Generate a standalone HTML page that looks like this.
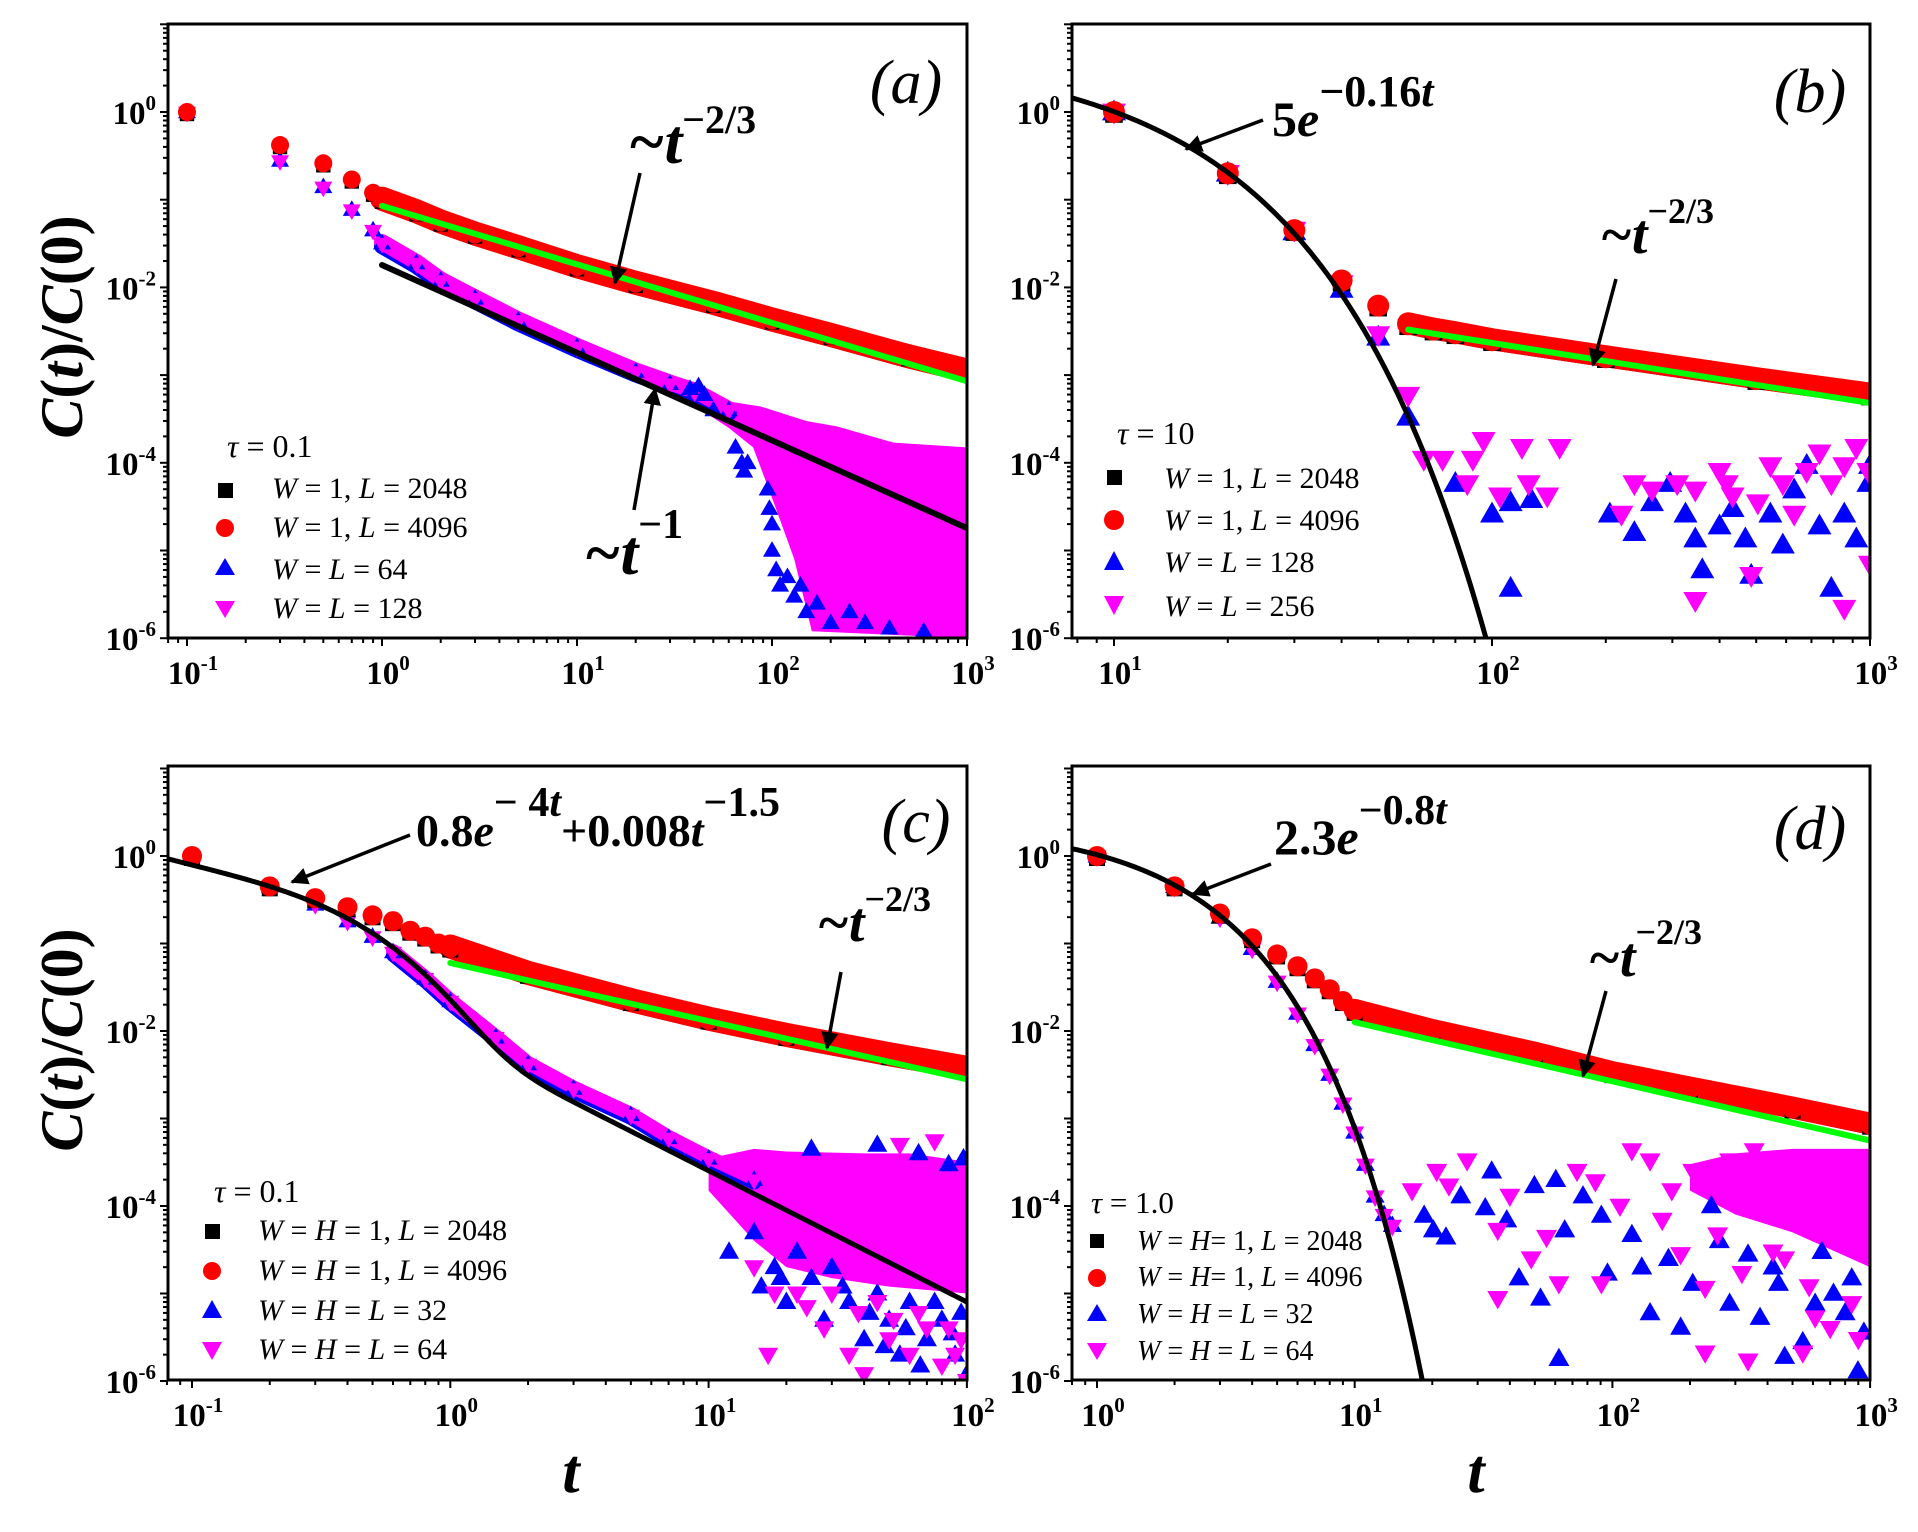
<!DOCTYPE html>
<html><head><meta charset="utf-8"><style>
html,body{margin:0;padding:0;background:#fff}
svg{display:block}
text{font-family:"Liberation Serif",serif}
</style></head><body>
<svg id="fig" width="1918" height="1532" viewBox="0 0 1918 1532" xmlns="http://www.w3.org/2000/svg">
<rect x="0" y="0" width="1918" height="1532" fill="#fff"/>
<defs>
<clipPath id="clip-a"><rect x="168" y="24" width="799" height="614"/></clipPath>
<clipPath id="clip-b"><rect x="1072" y="24" width="798" height="614"/></clipPath>
<clipPath id="clip-c"><rect x="168" y="766" width="799" height="614"/></clipPath>
<clipPath id="clip-d"><rect x="1072" y="766" width="798" height="614"/></clipPath>
<marker id="ah" viewBox="0 0 10 10" refX="9" refY="5" markerWidth="5" markerHeight="5" orient="auto"><path d="M0,0 L10,5 L0,10 z" fill="#000"/></marker>
</defs>
<g id="layer-data"></g>
<g id="layer-axes"></g>
<text transform="translate(82,327) rotate(-90)" text-anchor="middle" font-size="60" font-weight="bold"><tspan font-style="italic">C</tspan>(<tspan font-style="italic">t</tspan>)/<tspan font-style="italic">C</tspan>(0)</text>
<text transform="translate(82,1040) rotate(-90)" text-anchor="middle" font-size="60" font-weight="bold"><tspan font-style="italic">C</tspan>(<tspan font-style="italic">t</tspan>)/<tspan font-style="italic">C</tspan>(0)</text>
<text x="571" y="1492" text-anchor="middle" font-size="62" font-style="italic" font-weight="bold">t</text>
<text x="1476" y="1492" text-anchor="middle" font-size="62" font-style="italic" font-weight="bold">t</text>
<text x="906" y="103" text-anchor="middle" font-size="62" font-style="italic">(a)</text>
<text x="1810" y="112" text-anchor="middle" font-size="62" font-style="italic">(b)</text>
<text x="916" y="842" text-anchor="middle" font-size="62" font-style="italic">(c)</text>
<text x="1810" y="849" text-anchor="middle" font-size="62" font-style="italic">(d)</text>
<g font-weight="bold">
<text x="628" y="163" font-size="64"><tspan font-style="italic">~t</tspan><tspan font-size="40" dy="-30">−2/3</tspan></text>
<text x="584" y="574" font-size="64"><tspan font-style="italic">~t</tspan><tspan font-size="42" dy="-36">−1</tspan></text>
<text x="1272" y="136" font-size="50"><tspan>5</tspan><tspan font-style="italic">e</tspan><tspan font-size="44" dy="-30">−0.16</tspan><tspan font-size="44" font-style="italic">t</tspan></text>
<text x="1600" y="253" font-size="56"><tspan font-style="italic">~t</tspan><tspan font-size="36" dy="-30">−2/3</tspan></text>
<text x="416" y="846" font-size="46"><tspan>0.8</tspan><tspan font-style="italic">e</tspan><tspan font-size="42" dy="-30">− 4</tspan><tspan font-size="42" font-style="italic">t</tspan><tspan dy="30">+0.008</tspan><tspan font-style="italic">t</tspan><tspan font-size="42" dy="-30">−1.5</tspan></text>
<text x="817" y="941" font-size="56"><tspan font-style="italic">~t</tspan><tspan font-size="36" dy="-30">−2/3</tspan></text>
<text x="1274" y="854" font-size="50"><tspan>2.3</tspan><tspan font-style="italic">e</tspan><tspan font-size="42" dy="-30">−0.8</tspan><tspan font-size="42" font-style="italic">t</tspan></text>
<text x="1588" y="976" font-size="56"><tspan font-style="italic">~t</tspan><tspan font-size="36" dy="-32">−2/3</tspan></text>
</g>
<g stroke="#000" stroke-width="3.5" marker-end="url(#ah)">
<line x1="640" y1="173" x2="615" y2="283"/>
<line x1="634" y1="510" x2="655" y2="389"/>
<line x1="1263" y1="120" x2="1186" y2="149"/>
<line x1="1616" y1="279" x2="1593" y2="365"/>
<line x1="410" y1="835" x2="292" y2="882"/>
<line x1="841" y1="972" x2="827" y2="1048"/>
<line x1="1271" y1="864" x2="1193" y2="894"/>
<line x1="1606" y1="991" x2="1583" y2="1076"/>
</g>
<g font-size="30">
<g>
<text x="227" y="457" font-size="32"><tspan font-style="italic">τ</tspan> = 0.1</text>
<rect x="218" y="483" width="15" height="15" fill="#000"/>
<text x="272" y="498"><tspan font-style="italic">W</tspan> = 1, <tspan font-style="italic">L</tspan> = 2048</text>
<circle cx="225" cy="528" r="9" fill="#f00"/>
<text x="272" y="537"><tspan font-style="italic">W</tspan> = 1, <tspan font-style="italic">L</tspan> = 4096</text>
<polygon points="225,558 215,575 235,575" fill="#00f"/>
<text x="272" y="579"><tspan font-style="italic">W</tspan> = <tspan font-style="italic">L</tspan> = 64</text>
<polygon points="225,618 215,601 235,601" fill="#f0f"/>
<text x="272" y="618"><tspan font-style="italic">W</tspan> = <tspan font-style="italic">L</tspan> = 128</text>
</g>
<g>
<text x="1117" y="444" font-size="32"><tspan font-style="italic">τ</tspan> = 10</text>
<rect x="1107" y="470" width="15" height="15" fill="#000"/>
<text x="1164" y="488"><tspan font-style="italic">W</tspan> = 1, <tspan font-style="italic">L</tspan> = 2048</text>
<circle cx="1114" cy="520" r="10" fill="#f00"/>
<text x="1164" y="530"><tspan font-style="italic">W</tspan> = 1, <tspan font-style="italic">L</tspan> = 4096</text>
<polygon points="1114,551 1104,570 1124,570" fill="#00f"/>
<text x="1164" y="572"><tspan font-style="italic">W</tspan> = <tspan font-style="italic">L</tspan> = 128</text>
<polygon points="1114,615 1104,596 1124,596" fill="#f0f"/>
<text x="1164" y="616"><tspan font-style="italic">W</tspan> = <tspan font-style="italic">L</tspan> = 256</text>
</g>
<g>
<text x="214" y="1202" font-size="32"><tspan font-style="italic">τ</tspan> = 0.1</text>
<rect x="205" y="1224" width="15" height="15" fill="#000"/>
<text x="258" y="1240"><tspan font-style="italic">W</tspan> = <tspan font-style="italic">H</tspan> = 1, <tspan font-style="italic">L</tspan> = 2048</text>
<circle cx="212" cy="1271" r="9" fill="#f00"/>
<text x="258" y="1280"><tspan font-style="italic">W</tspan> = <tspan font-style="italic">H</tspan> = 1, <tspan font-style="italic">L</tspan> = 4096</text>
<polygon points="212,1300 202,1318 222,1318" fill="#00f"/>
<text x="258" y="1320"><tspan font-style="italic">W</tspan> = <tspan font-style="italic">H</tspan> = <tspan font-style="italic">L</tspan> = 32</text>
<polygon points="212,1360 202,1342 222,1342" fill="#f0f"/>
<text x="258" y="1359"><tspan font-style="italic">W</tspan> = <tspan font-style="italic">H</tspan> = <tspan font-style="italic">L</tspan> = 64</text>
</g>
<g font-size="28">
<text x="1091" y="1213" font-size="31"><tspan font-style="italic">τ</tspan> = 1.0</text>
<rect x="1090" y="1234" width="14" height="14" fill="#000"/>
<text x="1137" y="1250"><tspan font-style="italic">W</tspan> = <tspan font-style="italic">H</tspan>= 1, <tspan font-style="italic">L</tspan> = 2048</text>
<circle cx="1097" cy="1278" r="9" fill="#f00"/>
<text x="1137" y="1286"><tspan font-style="italic">W</tspan> = <tspan font-style="italic">H</tspan>= 1, <tspan font-style="italic">L</tspan> = 4096</text>
<polygon points="1097,1304 1087,1321 1107,1321" fill="#00f"/>
<text x="1137" y="1323"><tspan font-style="italic">W</tspan> = <tspan font-style="italic">H</tspan> = <tspan font-style="italic">L</tspan> = 32</text>
<polygon points="1097,1360 1087,1343 1107,1343" fill="#f0f"/>
<text x="1137" y="1360"><tspan font-style="italic">W</tspan> = <tspan font-style="italic">H</tspan> = <tspan font-style="italic">L</tspan> = 64</text>
</g>
</g>
</svg>
<script>
// ---------- Panel (a) data ----------
const aRedT = [0.1,0.3,0.5,0.7,0.9,1,1.5,2,3,5,10,20,50,100,200,500,1000];
const aRedY = [1,0.42,0.26,0.17,0.12,0.1,0.072,0.055,0.04,0.028,0.017,0.011,0.0065,0.0042,0.0028,0.0016,0.0011];
const aMagT = [0.1,0.3,0.5,0.7,0.9,1,1.5,2,3,5,10,20,30,40,60];
const aMagY = [1,0.28,0.14,0.077,0.045,0.032,0.019,0.012,0.0075,0.0042,0.0021,0.0011,0.0008,0.00065,0.0004];
const aBandUpT = [30,40,60,87,150,215,420,1000];
const aBandUpY = [9e-4,8e-4,5e-4,4.4e-4,3e-4,2.6e-4,1.7e-4,1.5e-4];
const aBandLoT = [30,40,60,80,100,130,160,1000];
const aBandLoY = [6e-4,4.5e-4,2.5e-4,1.5e-4,4e-5,8e-6,1.2e-6,1e-6];
const aBlueScT = [38,42,45,50,65,70,72,75,95,97,100,100,105,110,120,130,140,150,170,200,250,300,400,600];
const aBlueScY = [7e-4,7.5e-4,6e-4,4e-4,1.5e-4,1e-4,8e-5,1e-4,5e-5,3e-5,2e-5,1e-5,6e-6,4e-6,5e-6,3e-6,4e-6,2e-6,2.5e-6,1.5e-6,2e-6,1.5e-6,1.3e-6,1.2e-6];
const aGreenT = [1,1000];
const aGreenY = [0.085,0.00085];
const aFitT = [1,1000];
const aFitY = [0.018,1.8e-5];
// ---------- Panel (b) data ----------
const bRedT = [10,20,30,40,50,60,70,80,100,200,500,1000];
const bRedY = [1,0.2,0.045,0.012,0.0062,0.0038,0.0033,0.003,0.0025,0.0016,0.0009,0.0006];
const bBlueT = [10,20,30,40,50,60];
const bBlueY = [1,0.2,0.043,0.0095,0.0027,0.00033];
const bMagT = [10,20,30,40,50,60];
const bMagY = [1,0.2,0.045,0.011,0.0029,0.00059];
const bBlueScT = [80,100,112,127,112,205,238,265,296,325,345,360,400,433,468,485,545,588,630,680,735,790,855,920,990,1000];
const bBlueScY = [5.8e-5,2.6e-5,3.5e-5,3.8e-5,3.7e-6,2.6e-5,1.6e-5,3.5e-5,5.8e-5,2.6e-5,1.35e-5,6e-6,1.9e-5,3e-5,1.35e-5,5.2e-6,2.6e-5,1.15e-5,4.9e-5,9.3e-5,1.9e-5,3.7e-6,2.6e-5,1.35e-5,5.8e-5,9.3e-5];
const bMagScT = [66,74,86,89,95,105,120,125,140,151,220,238,265,309,345,400,433,485,545,588,630,680,735,790,855,920,990,1000,855,345,505,418];
const bMagScY = [1.1e-4,1.1e-4,5.8e-5,1.1e-4,1.8e-4,4.2e-5,1.5e-4,5.8e-5,4.2e-5,1.5e-4,2.6e-5,5.8e-5,4.9e-5,5.8e-5,4.9e-5,8e-5,4.2e-5,5.2e-6,9.3e-5,5.8e-5,2.6e-5,8e-5,1.3e-4,5.8e-5,9.3e-5,1.5e-4,8e-5,7e-6,2.2e-6,2.7e-6,3.5e-5,5.8e-5];
const bGreenT = [60,1000];
const bGreenY = [0.0033,0.00048];
const bFitAmp = [5];
const bFitRate = [0.16];
// ---------- Panel (c) data ----------
const cRedT = [0.1,0.2,0.3,0.4,0.5,0.6,0.7,0.8,0.9,1,2,5,10,20,50,100];
const cRedY = [1,0.45,0.33,0.26,0.21,0.18,0.14,0.12,0.1,0.09,0.045,0.022,0.0135,0.0088,0.0053,0.0037];
const cMagT = [0.1,0.2,0.3,0.4,0.5,0.6,0.8,1,1.5,2,3,5,7,10,15];
const cMagY = [1,0.45,0.28,0.18,0.12,0.08,0.04,0.022,0.0085,0.0042,0.0022,0.0011,0.0006,0.00035,0.0002];
const cBandUpT = [10,15,20,40,60,100];
const cBandUpY = [3.5e-4,4.5e-4,4.2e-4,4e-4,4e-4,3.2e-4];
const cBandLoT = [10,15,20,30,50,100];
const cBandLoY = [1.5e-4,4e-5,2e-5,1.5e-5,1.2e-5,1e-5];
const cBlueScT = [12,15,18,20,22,25,28,30,35,40,45,50,55,60,70,80,90,100,25,45,65,85,97,16,19,33,42,48,58,66,75,88,95];
const cBlueScY = [3e-5,5e-5,2e-5,8e-6,3e-5,1.5e-5,5e-6,2e-5,8e-6,3e-6,1e-5,5e-6,2e-6,8e-6,3e-6,5e-6,2e-6,1.2e-6,4.5e-4,5e-4,4e-4,3e-4,3.5e-4,1.2e-5,1.5e-5,1.2e-5,6e-6,2.5e-6,4e-6,1.5e-6,8e-6,3.5e-6,6e-6];
const cMagScT = [13,15,17,22,28,35,40,50,60,70,80,90,100,30,45,55,75,18,24,38,52,65,85,95];
const cMagScY = [1.5e-4,2e-5,2e-6,1e-5,4e-6,2e-6,1.2e-6,3e-6,2e-6,4e-6,1.5e-6,2e-6,1e-6,1e-5,8e-6,5e-4,5.5e-4,1e-5,7e-6,6e-6,5e-6,6e-6,4e-6,3e-6];
const cGreenT = [1,100];
const cGreenY = [0.06,0.0028];
const cFitA = [0.8,4];
const cFitB = [0.008,1.5];
// ---------- Panel (d) data ----------
const dRedT = [1,2,3,4,5,6,7,8,9,10,20,50,100,200,500,1000];
const dRedY = [1,0.45,0.22,0.115,0.075,0.055,0.04,0.03,0.022,0.017,0.01,0.0055,0.0033,0.0022,0.0013,0.00085];
const dMagT = [1,2,3,4,5,6,7,8,9,10,11,12,13,14];
const dMagY = [1,0.45,0.2,0.088,0.037,0.016,0.007,0.0032,0.0015,7e-4,3e-4,1.3e-4,8e-5,6e-5];
const dBandUpT = [200,300,500,1000];
const dBandUpY = [3e-4,4e-4,4.5e-4,4.5e-4];
const dBandLoT = [200,300,500,1000];
const dBandLoY = [1.5e-4,8e-5,5e-5,2e-5];
const dBlueScT = [18.6,20.2,22.6,25.8,34,32.1,38.9,43.4,49.8,52.6,60.3,65.3,76.9,90.6,95.7,119,140,165,184,205,242,285,336,374,441,466,548,612,721,849,897,946,62,130,260,420,650,800];
const dBlueScY = [7.8e-5,5.3e-5,4.4e-5,1.3e-4,2.5e-4,9.5e-5,6.9e-5,1.5e-5,1.7e-4,8.8e-6,2e-4,5.3e-5,1.3e-4,7.8e-5,1.7e-5,4.7e-5,6e-6,2.5e-5,4.1e-6,1.3e-5,1e-4,7.7e-6,2.8e-5,5.3e-6,1.3e-5,1.9e-6,2.8e-6,7.7e-6,1e-5,1.5e-5,1.3e-6,3.6e-6,1.8e-6,2e-5,4e-5,2e-5,3e-5,6e-6];
const dMagScT = [16.7,20.8,23.2,27.3,35.9,40,48.4,55.5,62,72.9,85.9,90.6,107,119,140,156,184,205,229,256,285,318,355,396,466,548,612,682,762,849,946,229,336,548,35.9,170,250,420,580,700,900];
const dMagScY = [1.5e-4,2.5e-4,1.7e-4,3.3e-4,5.3e-5,1.3e-4,2.5e-5,4.4e-5,1.3e-5,2.5e-4,1.9e-4,1.3e-5,1e-4,4.3e-4,3.3e-4,6.9e-5,2.8e-5,2.5e-4,1.15e-5,4.7e-5,3.3e-4,1.7e-5,4.3e-4,1e-4,2.5e-5,1.9e-4,5.3e-6,4.7e-5,2.5e-4,7.7e-6,1e-4,2.1e-6,1.7e-6,2.1e-6,8.8e-6,1.5e-4,2e-4,3e-5,1.2e-5,4e-6,3e-6];
const dGreenT = [10,1000];
const dGreenY = [0.0126,0.00056];
const dFitAmp = [2.3];
const dFitRate = [0.8];

const NS = 'http://www.w3.org/2000/svg';
const P = {
  a:{L:168,R:967,T:24,B:638,xo:187,xl:-1,xd:195,yo:112,yd:87.7,xmin:-1,xmax:3,ymin:-6,ymax:1},
  b:{L:1072,R:1870,T:24,B:638,xo:1114,xl:1,xd:378,yo:112,yd:87.7,xmin:1,xmax:3,ymin:-6,ymax:1},
  c:{L:168,R:967,T:766,B:1380,xo:192,xl:-1,xd:258.3,yo:856,yd:87.5,xmin:-1,xmax:2,ymin:-6,ymax:1},
  d:{L:1072,R:1870,T:766,B:1380,xo:1097,xl:0,xd:257.7,yo:856,yd:87.5,xmin:0,xmax:3,ymin:-6,ymax:1}
};
function xs(p,t){return p.xo+(Math.log10(t)-p.xl)*p.xd;}
function ys(p,v){return p.yo-Math.log10(v)*p.yd;}
function mk(tag,parent){const el=document.createElementNS(NS,tag);parent.appendChild(el);return el;}
const dataLayer=document.getElementById('layer-data');
const axLayer=document.getElementById('layer-axes');

function drawAxes(k){
  const p=P[k];
  const g=mk('g',axLayer);
  
  
  const fr=mk('rect',g);
  
  
  fr.setAttribute('x',p.L);fr.setAttribute('y',p.T);fr.setAttribute('width',p.R-p.L);fr.setAttribute('height',p.B-p.T);
  fr.setAttribute('fill','none');fr.setAttribute('stroke','#000');fr.setAttribute('stroke-width','3');
  for(let e=p.xmin-1;e<=p.xmax;e++){
    for(let m=1;m<10;m++){
      const t=m*Math.pow(10,e);const x=xs(p,t);
      if(x<p.L-2||x>p.R+2)continue;
      const ln=mk('line',g);
      
      
      ln.setAttribute('x1',x);ln.setAttribute('x2',x);ln.setAttribute('y1',p.B);ln.setAttribute('y2',p.B+(m===1?8:5));
      ln.setAttribute('stroke','#000');ln.setAttribute('stroke-width','2');
      if(m===1){
        const tx=mk('text',g);
        
        
        tx.setAttribute('x',x+6);tx.setAttribute('y',p.B+46);tx.setAttribute('text-anchor','middle');
        tx.setAttribute('font-size','33');tx.setAttribute('font-weight','bold');
        tx.innerHTML='10<tspan font-size="21" dy="-14">'+e+'</tspan>';
      }
    }
  }
  for(let e=p.ymin;e<=p.ymax;e++){
    for(let m=1;m<10;m++){
      const v=m*Math.pow(10,e);const y=ys(p,v);
      if(y<p.T-2||y>p.B+2)continue;
      const ln=mk('line',g);
      
      
      ln.setAttribute('x1',p.L);ln.setAttribute('x2',p.L-(m===1?8:5));ln.setAttribute('y1',y);ln.setAttribute('y2',y);
      ln.setAttribute('stroke','#000');ln.setAttribute('stroke-width','2');
      if(m===1 && e%2===0 && e<=0){
        const tx=mk('text',g);
        
        
        tx.setAttribute('x',p.L-12);tx.setAttribute('y',y+12);tx.setAttribute('text-anchor','end');
        tx.setAttribute('font-size','33');tx.setAttribute('font-weight','bold');
        tx.innerHTML='10<tspan font-size="21" dy="-14">'+e+'</tspan>';
      }
    }
  }
}

function panelGroup(k){
  const g=mk('g',dataLayer);
  
  
  g.setAttribute('clip-path','url(#clip-'+k+')');
  return g;
}
function polyline(g,p,T,Y,color,w,name,off){
  const pl=mk('polyline',g);
  
  
  pl.setAttribute('points',T.map((t,i)=>xs(p,t)+','+(ys(p,Y[i])+(off||0))).join(' '));
  pl.setAttribute('fill','none');pl.setAttribute('stroke',color);pl.setAttribute('stroke-width',w);
  pl.setAttribute('stroke-linejoin','round');pl.setAttribute('stroke-linecap','round');
  return pl;
}
function band(g,p,UT,UY,LT,LY,color,name){
  const pts=UT.map((t,i)=>xs(p,t)+','+ys(p,UY[i]));
  for(let i=LT.length-1;i>=0;i--)pts.push(xs(p,LT[i])+','+ys(p,LY[i]));
  const pg=mk('polygon',g);
  
  
  pg.setAttribute('points',pts.join(' '));pg.setAttribute('fill',color);
}
function tri(g,x,y,s,up,color,name){
  const pg=mk('polygon',g);
  
  
  const h=s*0.87;
  const pts=up?[[x,y-h*0.6],[x-s/2,y+h*0.4],[x+s/2,y+h*0.4]]:[[x,y+h*0.6],[x-s/2,y-h*0.4],[x+s/2,y-h*0.4]];
  pg.setAttribute('points',pts.map(q=>q.join(',')).join(' '));pg.setAttribute('fill',color);
}
function circ(g,x,y,r,color,name){
  const c=mk('circle',g);
  
  
  c.setAttribute('cx',x);c.setAttribute('cy',y);c.setAttribute('r',r);c.setAttribute('fill',color);
}
function scatter(g,p,T,Y,s,up,color,name){
  T.forEach((t,i)=>tri(g,xs(p,t),ys(p,Y[i]),s,up,color,name));
}
function curveBand(g,p,T,Y,s,w,name,start){
  const dT=T.filter(t=>t>=start), dY=Y.filter((v,i)=>T[i]>=start);
  polyline(g,p,dT,dY,'#00f',w,name+'-blue',3);
  polyline(g,p,dT,dY,'#f0f',w,name+'-magenta',-1);
  T.forEach((t,i)=>{tri(g,xs(p,t),ys(p,Y[i]),s,true,'#00f',name+'-blue-point');});
  T.forEach((t,i)=>{tri(g,xs(p,t),ys(p,Y[i])+1,s,false,'#f0f',name+'-magenta-point');});
}
function redSeries(g,p,T,Y,r,startDense,w,name){
  const dT=T.filter(t=>t>=startDense), dY=Y.filter((v,i)=>T[i]>=startDense);
  polyline(g,p,dT,dY,'#000',w-6,name+'-black-band',2);
  polyline(g,p,dT,dY,'#f00',w,name+'-red-band',-1);
  T.forEach((t,i)=>{const x=xs(p,t),y=ys(p,Y[i]);
    const sq=mk('rect',g);
    
    
    sq.setAttribute('x',x-r*0.8);sq.setAttribute('y',y-r*0.8+2);sq.setAttribute('width',r*1.6);sq.setAttribute('height',r*1.6);sq.setAttribute('fill','#000');
    circ(g,x,y,r,'#f00',name+'-red-point');});
}
function fitCurve(g,p,fn,t0,t1,name){
  const T=[],Y=[];
  for(let i=0;i<=300;i++){const t=Math.pow(10,Math.log10(t0)+(Math.log10(t1)-Math.log10(t0))*i/300);const v=fn(t);if(v>1e-7){T.push(t);Y.push(v);}}
  polyline(g,p,T,Y,'#000',5,name);
}

(function(){const p=P.a,g=panelGroup('a');
  band(g,p,aBandUpT,aBandUpY,aBandLoT,aBandLoY,'#f0f','series-a-magenta-noise');
  curveBand(g,p,aMagT,aMagY,18,16,'series-a-small',1);
  scatter(g,p,aBlueScT,aBlueScY,18,true,'#00f','series-a-blue-scatter');
  redSeries(g,p,aRedT,aRedY,9,1,24,'series-a-large');
  polyline(g,p,aGreenT,aGreenY,'#0f0',6,'fit-a-power-two-thirds');
  polyline(g,p,aFitT,aFitY,'#000',6,'fit-a-power-one');
})();
(function(){const p=P.b,g=panelGroup('b');
  scatter(g,p,bBlueScT,bBlueScY,24,true,'#00f','series-b-blue-scatter');
  scatter(g,p,bMagScT,bMagScY,24,false,'#f0f','series-b-magenta-scatter');
  bBlueT.forEach((t,i)=>tri(g,xs(p,t),ys(p,bBlueY[i]),24,true,'#00f','series-b-blue-point'));
  bMagT.forEach((t,i)=>tri(g,xs(p,t),ys(p,bMagY[i]),24,false,'#f0f','series-b-magenta-point'));
  redSeries(g,p,bRedT,bRedY,11,60,22,'series-b-large');
  polyline(g,p,bGreenT,bGreenY,'#0f0',6,'fit-b-power-two-thirds');
  fitCurve(g,p,t=>bFitAmp[0]*Math.exp(-bFitRate[0]*t),7,200,'fit-b-exponential');
})();
(function(){const p=P.c,g=panelGroup('c');
  band(g,p,cBandUpT,cBandUpY,cBandLoT,cBandLoY,'#f0f','series-c-magenta-noise');
  scatter(g,p,cBlueScT,cBlueScY,20,true,'#00f','series-c-blue-scatter');
  scatter(g,p,cMagScT,cMagScY,20,false,'#f0f','series-c-magenta-scatter');
  curveBand(g,p,cMagT,cMagY,18,14,'series-c-small',0.6);
  redSeries(g,p,cRedT,cRedY,10,1,24,'series-c-large');
  polyline(g,p,cGreenT,cGreenY,'#0f0',6,'fit-c-power-two-thirds');
  fitCurve(g,p,t=>cFitA[0]*Math.exp(-cFitA[1]*t)+cFitB[0]*Math.pow(t,-cFitB[1]),0.08,100,'fit-c-combined');
})();
(function(){const p=P.d,g=panelGroup('d');
  band(g,p,dBandUpT,dBandUpY,dBandLoT,dBandLoY,'#f0f','series-d-magenta-noise');
  scatter(g,p,dBlueScT,dBlueScY,21,true,'#00f','series-d-blue-scatter');
  scatter(g,p,dMagScT,dMagScY,21,false,'#f0f','series-d-magenta-scatter');
  dMagT.forEach((t,i)=>tri(g,xs(p,t),ys(p,dMagY[i]),19,true,'#00f','series-d-blue-point'));
  dMagT.forEach((t,i)=>tri(g,xs(p,t),ys(p,dMagY[i])+1,19,false,'#f0f','series-d-magenta-point'));
  redSeries(g,p,dRedT,dRedY,10,10,22,'series-d-large');
  polyline(g,p,dGreenT,dGreenY,'#0f0',6,'fit-d-power-two-thirds');
  fitCurve(g,p,t=>dFitAmp[0]*Math.exp(-dFitRate[0]*t),0.8,30,'fit-d-exponential');
})();
['a','b','c','d'].forEach(drawAxes);
</script>
</body></html>
